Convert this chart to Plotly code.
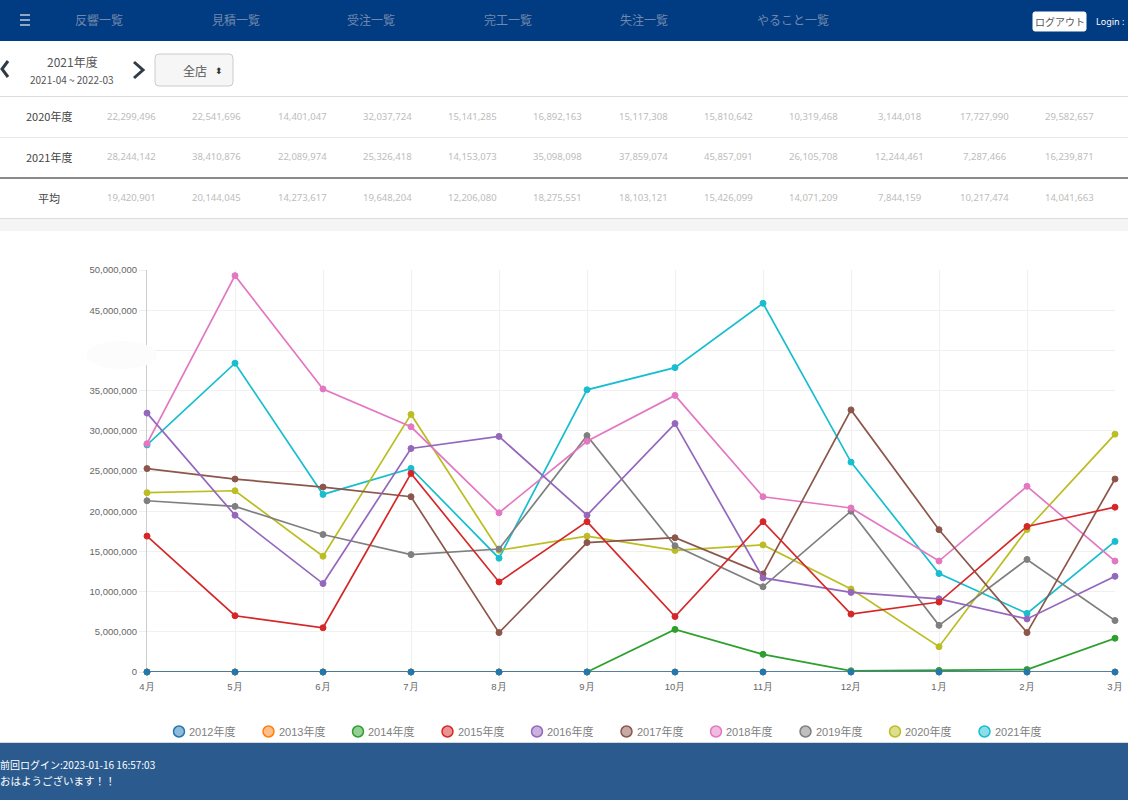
import plotly.graph_objects as go

months = ["4月", "5月", "6月", "7月", "8月", "9月", "10月", "11月", "12月", "1月", "2月", "3月"]

fy2012 = [0, 0, 0, 0, 0, 0, 0, 0, 0, 0, 0, 0]
fy2013 = [0, 0, 0, 0, 0, 0, 0, 0, 0, 0, 0, 0]
fy2014 = [0, 0, 0, 0, 0, 0, 5300000, 2200000, 150000, 200000, 300000, 4200000]
fy2015 = [16900000, 7000000, 5500000, 24700000, 11200000, 18700000, 6900000, 18700000, 7200000, 8700000, 18100000, 20500000]
fy2016 = [32200000, 19500000, 11000000, 27800000, 29300000, 19500000, 30900000, 11700000, 9900000, 9100000, 6600000, 11900000]
fy2017 = [25300000, 24000000, 23000000, 21800000, 4900000, 16100000, 16700000, 12200000, 32600000, 17700000, 4900000, 24000000]
fy2018 = [28400000, 49300000, 35200000, 30500000, 19800000, 28700000, 34400000, 21800000, 20400000, 13800000, 23100000, 13800000]
fy2019 = [21300000, 20600000, 17100000, 14600000, 15300000, 29400000, 15700000, 10600000, 20000000, 5800000, 14000000, 6400000]
fy2020 = [22299496, 22541696, 14401047, 32037724, 15141285, 16892163, 15117308, 15810642, 10319468, 3144018, 17727990, 29582657]
fy2021 = [28244142, 38410876, 22089974, 25326418, 14153073, 35098098, 37859074, 45857091, 26105708, 12244461, 7287466, 16239871]
average = [19420901, 20144045, 14273617, 19648204, 12206080, 18275551, 18103121, 15426099, 14071209, 7844159, 10217474, 14041663]

series_names = ["2012年度", "2013年度", "2014年度", "2015年度", "2016年度", "2017年度", "2018年度", "2019年度", "2020年度", "2021年度"]
series_values = [fy2012, fy2013, fy2014, fy2015, fy2016, fy2017, fy2018, fy2019, fy2020, fy2021]
series_rgb = ["31,119,180", "255,127,14", "44,160,44", "214,39,40", "148,103,189",
              "140,86,75", "227,119,194", "127,127,127", "188,189,34", "23,190,207"]

nav_labels = ["反響一覧", "見積一覧", "受注一覧", "完工一覧", "失注一覧", "やること一覧"]
nav_x = [99, 236, 371, 508, 644, 793]

JP = "Noto Sans CJK JP"
LEFT, RIGHT, TOP, BOTTOM = 147, 1115, 270, 672


def px(x):
    return (x - LEFT) / (RIGHT - LEFT)


def py(y):
    return (BOTTOM - y) / (BOTTOM - TOP)


def label(text, x, y, size=11, color="#555", xanchor="center", family=JP):
    return dict(text=text, x=px(x), y=py(y), xref="paper", yref="paper", showarrow=False,
                xanchor=xanchor, yanchor="middle", font=dict(size=size, color=color, family=family))


def box(x0, y0, x1, y1, fill, line=None, layer="below"):
    return dict(type="rect", xref="paper", yref="paper", x0=px(x0), x1=px(x1), y0=py(y0), y1=py(y1),
                fillcolor=fill, line=dict(color=line or fill, width=1 if line else 0), layer=layer)


def stroke(points, color, width=2):
    path = "M " + " L ".join(f"{px(x)} {py(y)}" for x, y in points)
    return dict(type="path", xref="paper", yref="paper", path=path, line=dict(color=color, width=width), layer="above")


def rounded(x0, y0, x1, y1, r, fill, line):
    p = lambda x, y: f"{px(x)} {py(y)}"
    path = (f"M {p(x0 + r, y0)} L {p(x1 - r, y0)} Q {p(x1, y0)} {p(x1, y0 + r)} L {p(x1, y1 - r)} "
            f"Q {p(x1, y1)} {p(x1 - r, y1)} L {p(x0 + r, y1)} Q {p(x0, y1)} {p(x0, y1 - r)} "
            f"L {p(x0, y0 + r)} Q {p(x0, y0)} {p(x0 + r, y0)} Z")
    return dict(type="path", xref="paper", yref="paper", path=path, fillcolor=fill,
                line=dict(color=line, width=1), layer="below")


shapes = [
    box(0, 0, 1128, 41, "#013b82"),
    box(0, 219, 1128, 231, "#f5f5f5"),
    box(0, 743, 1128, 800, "#2b5b8e"),
    box(0, 742, 1128, 743, "#d5d8dc"),
    box(0, 96, 1128, 97, "#dcdcdc"),
    box(0, 137, 1128, 138, "#e8e8e8"),
    box(0, 177, 1128, 179, "#8a8a8a"),
    box(0, 218, 1128, 219, "#dddddd"),
    rounded(155, 54, 233, 86, 4, "#f6f6f6", "#cccccc"),
    rounded(1033, 12, 1086, 31, 2, "#ffffff", "#ffffff"),
    # blurred patch over the 40,000,000 tick label
    dict(type="circle", xref="paper", yref="paper", x0=px(86), x1=px(157), y0=py(341), y1=py(369),
         fillcolor="#fcfcfc", line=dict(width=0), layer="above"),
    stroke([(8, 61), (2, 69), (8, 77)], "#2f3b46", 3),
    stroke([(134, 62), (143, 70), (134, 78)], "#2f3b46", 3),
]
for y in [15, 20, 25]:
    shapes.append(stroke([(20, y), (30, y)], "#8fa6c6", 2))

annotations = [label(t, x, 19.5, 12, "#7289ac") for t, x in zip(nav_labels, nav_x)]
annotations += [
    label("ログアウト", 1059.5, 21, 10, "#555"),
    label("Login :", 1094, 21, 9, "#ffffff", "left", "Noto Sans"),
    label("2021年度", 72, 61, 12, "#555"),
    label("2021-04 ~ 2022-03", 72, 79, 10, "#555"),
    label("全店", 195, 70, 12, "#555"),
    label("⬍", 219, 70, 9, "#333"),
    label("2020年度", 49, 116, 11, "#444"),
    label("2021年度", 49, 157, 11, "#444"),
    label("平均", 49, 198, 11, "#444"),
    label("前回ログイン:2023-01-16 16:57:03", -2, 764, 10, "#ffffff", "left"),
    label("おはようございます！！", -2, 780, 10.5, "#ffffff", "left"),
]
col_x = [131, 216, 302, 387, 472, 557, 643, 728, 813, 899, 984, 1069]
for row_y, row in [(116, fy2020), (157, fy2021), (198, average)]:
    for x, v in zip(col_x, row):
        annotations.append(label(f"{v:,}", x, row_y, 9.5, "#bcbcbc", family="Noto Sans"))

# legend row, the text sits closer to the circles than the built in legend allows
for i, (name, rgb) in enumerate(zip(series_names, series_rgb)):
    cx = 179 + i * 89.5
    shapes.append(dict(type="circle", xref="paper", yref="paper", x0=px(cx - 5.5), x1=px(cx + 5.5),
                       y0=py(737), y1=py(726), fillcolor=f"rgba({rgb},0.5)",
                       line=dict(color=f"rgb({rgb})", width=1.5), layer="above"))
    annotations.append(label(name, cx + 8, 731, 11, "#808080", "left", "Liberation Sans, " + JP))

fig = go.Figure()

# first dataset is painted on top in the original, so lines go in reverse
for name, values, rgb in reversed(list(zip(series_names, series_values, series_rgb))):
    fig.add_trace(go.Scatter(
        x=months, y=values, name=name, mode="lines+markers", showlegend=False, cliponaxis=False,
        line=dict(color=f"rgb({rgb})", width=1.7),
        marker=dict(size=6, color=f"rgb({rgb})", line=dict(color=f"rgb({rgb})", width=1)),
    ))

fig.update_layout(
    template="none",
    width=1128, height=800, autosize=False,
    margin=dict(l=LEFT, r=1128 - RIGHT, t=TOP, b=800 - BOTTOM),
    paper_bgcolor="#ffffff", plot_bgcolor="#ffffff",
    font=dict(family="Liberation Sans", size=9.5, color="#666"),
    shapes=shapes, annotations=annotations,
    showlegend=False,
)
fig.update_xaxes(type="category", categoryorder="array", categoryarray=months, range=[0, 11], automargin=False,
                 showgrid=True, gridcolor="#f0f0f0", gridwidth=1, zeroline=False, showline=False, layer="below traces",
                 ticks="outside", ticklen=6, tickcolor="#eeeeee", tickfont=dict(size=9.5, color="#666"))
fig.update_yaxes(range=[0, 50000000], dtick=5000000, tickformat=",d", showgrid=True, automargin=False,
                 gridcolor="#f0f0f0", gridwidth=1, zeroline=False, showline=True, linecolor="#cccccc", layer="below traces",
                 linewidth=1, ticks="outside", ticklen=7, tickcolor="#eeeeee", tickfont=dict(size=9.5, color="#666"))

fig.write_html("out.html", config={"displayModeBar": False, "responsive": False},
               post_script="document.body.style.margin='0';document.body.style.overflow='hidden';")
